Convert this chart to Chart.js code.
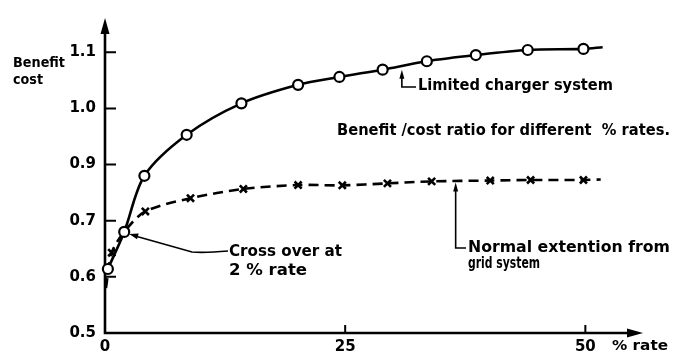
<!DOCTYPE html>
<html>
<head>
<meta charset="utf-8">
<script src="https://cdn.jsdelivr.net/npm/chart.js@4.4.1/dist/chart.umd.min.js"></script>
<style>
  html, body { margin: 0; padding: 0; background: #fff; }
  #wrap { width: 673px; height: 354px; }
</style>
</head>
<body>
<div id="wrap"><canvas id="chart"></canvas></div>
<script>
// Limited charger system (solid line, open circles)
const limitedRate  = [0.3, 2, 4.1, 8.5, 14.2, 20.1, 24.4, 28.9, 33.5, 38.6, 44.0, 49.8, 51.8];
const limitedRatio = [0.614, 0.68, 0.86, 0.953, 1.009, 1.042, 1.056, 1.069, 1.084, 1.095, 1.104, 1.106, 1.109];

// Normal extention from grid system (dashed line, x marks)
const normalRate  = [0.1, 0.7, 2, 4.2, 8.9, 14.4, 20.1, 24.7, 29.4, 34.0, 40.1, 44.3, 49.8, 51.6];
const normalRatio = [0.58, 0.643, 0.68, 0.733, 0.78, 0.813, 0.827, 0.826, 0.833, 0.84, 0.843, 0.845, 0.845, 0.847];

// axis ticks as printed on the figure (no 0.8 on the ratio axis)
const yTickValues = [0.5, 0.6, 0.7, 0.9, 1.0, 1.1];
const yTickLabels = ['0.5', '0.6', '0.7', '0.9', '1.0', '1.1'];
const xTicks = [0, 25, 50];

const FONT = '"DejaVu Sans", "Liberation Sans", sans-serif';

// the ratio axis is evenly spaced per printed tick, so map a ratio onto tick steps
function ratioAxis(v) {
  let i = 0;
  while (i < yTickValues.length - 2 && v > yTickValues[i + 1]) i++;
  return i + (v - yTickValues[i]) / (yTickValues[i + 1] - yTickValues[i]);
}

// stretched text to get the wide lettering of the drawing
function wideText(ctx, str, x, y, width, size) {
  ctx.save();
  ctx.font = 'bold ' + size + 'px ' + FONT;
  ctx.textBaseline = 'middle';
  ctx.textAlign = 'left';
  const w = ctx.measureText(str).width;
  ctx.translate(x, y);
  ctx.scale(width / w, 1);
  ctx.fillText(str, 0, 0);
  ctx.restore();
}

function arrowHead(ctx, x, y, angle, len, half) {
  ctx.save();
  ctx.translate(x, y);
  ctx.rotate(angle);
  ctx.beginPath();
  ctx.moveTo(0, 0);
  ctx.lineTo(-len, -half);
  ctx.lineTo(-len, half);
  ctx.closePath();
  ctx.fill();
  ctx.restore();
}

const axesPlugin = {
  id: 'axesPlugin',
  beforeDatasetsDraw(chart) {
    const { ctx, chartArea } = chart;
    const xs = chart.scales.x, ys = chart.scales.y;
    const x0 = xs.getPixelForValue(0);
    const y0 = ys.getPixelForValue(0);
    ctx.save();
    ctx.strokeStyle = '#000';
    ctx.fillStyle = '#000';
    ctx.lineWidth = 2.6;
    ctx.beginPath();
    ctx.moveTo(x0, chartArea.top + 10);
    ctx.lineTo(x0, y0);
    ctx.lineTo(chartArea.right - 10, y0);
    ctx.stroke();
    arrowHead(ctx, x0, chartArea.top, -Math.PI / 2, 16, 4.5);
    arrowHead(ctx, chartArea.right, y0, 0, 16, 4.5);
    // tick marks point into the plot
    ctx.lineWidth = 2;
    ctx.beginPath();
    for (let i = 1; i < yTickLabels.length; i++) {
      const y = ys.getPixelForValue(i);
      ctx.moveTo(x0, y);
      ctx.lineTo(x0 + 11, y);
    }
    xTicks.slice(1).forEach(v => {
      const x = xs.getPixelForValue(v);
      ctx.moveTo(x, y0);
      ctx.lineTo(x, y0 - 8);
    });
    ctx.stroke();
    ctx.restore();
  },
  afterDatasetsDraw(chart) {
    const { ctx } = chart;
    const xs = chart.scales.x, ys = chart.scales.y;
    ctx.save();
    ctx.fillStyle = '#000';
    ctx.strokeStyle = '#000';

    // axis titles
    wideText(ctx, 'Benefit', 13, 63, 52, 14);
    wideText(ctx, 'cost', 13, 80, 30, 14);
    wideText(ctx, '% rate', 612, 346, 56, 14);

    // heading
    wideText(ctx, 'Benefit /cost ratio for different  % rates.', 337, 131, 333, 15);

    // limited charger leader
    ctx.lineWidth = 1.6;
    const lx = xs.getPixelForValue(30.9);
    const ly = ys.getPixelForValue(ratioAxis(1.074)) + 3;
    ctx.beginPath();
    ctx.moveTo(lx, ly + 6);
    ctx.lineTo(lx, 87);
    ctx.lineTo(416, 87);
    ctx.stroke();
    arrowHead(ctx, lx, ly, -Math.PI / 2, 9, 2.5);
    wideText(ctx, 'Limited charger system', 418, 86, 195, 16);

    // cross over leader
    const cx = xs.getPixelForValue(2) + 5;
    const cy = ys.getPixelForValue(ratioAxis(0.68)) + 2;
    ctx.beginPath();
    ctx.moveTo(cx + 6, cy + 2);
    ctx.lineTo(192, 252);
    ctx.quadraticCurveTo(205, 253, 228, 251);
    ctx.stroke();
    arrowHead(ctx, cx, cy, Math.atan2(cy - 252, cx - 192), 9, 3);
    wideText(ctx, 'Cross over at', 229, 252, 113, 16);
    wideText(ctx, '2 % rate', 229, 271, 78, 16);

    // normal extention leader
    const nx = xs.getPixelForValue(36.5);
    const ny = ys.getPixelForValue(ratioAxis(0.843)) + 2;
    ctx.beginPath();
    ctx.moveTo(nx, ny + 6);
    ctx.lineTo(nx, 248);
    ctx.lineTo(466, 248);
    ctx.stroke();
    arrowHead(ctx, nx, ny, -Math.PI / 2, 9, 2.5);
    wideText(ctx, 'Normal extention from', 468, 248, 202, 15);
    wideText(ctx, 'grid system', 468, 264, 72, 15);
    ctx.restore();
  }
};

const lastLimited = limitedRate.length - 1;
const lastNormal = normalRate.length - 1;

new Chart(document.getElementById('chart'), {
  type: 'line',
  data: {
    datasets: [
      {
        label: 'Limited charger system',
        data: limitedRate.map((x, i) => ({ x, y: ratioAxis(limitedRatio[i]) })),
        borderColor: '#000',
        borderWidth: 2.6,
        tension: 0.3,
        pointStyle: 'circle',
        pointRadius: limitedRate.map((_, i) => (i === lastLimited ? 0 : 5)),
        pointBackgroundColor: '#fff',
        pointBorderColor: '#000',
        pointBorderWidth: 2.2,
        clip: false
      },
      {
        label: 'Normal extention from grid system',
        data: normalRate.map((x, i) => ({ x, y: ratioAxis(normalRatio[i]) })),
        borderColor: '#000',
        borderWidth: 2.6,
        borderDash: [10, 6],
        tension: 0.3,
        pointStyle: 'crossRot',
        pointRadius: normalRate.map((_, i) => (i === 0 || i === 2 || i === lastNormal ? 0 : 5)),
        pointBorderColor: '#000',
        pointBorderWidth: 2.6,
        clip: false
      }
    ]
  },
  options: {
    responsive: true,
    maintainAspectRatio: false,
    animation: false,
    layout: { padding: { top: 10, right: 30, left: 0, bottom: 0 } },
    plugins: {
      legend: { display: false },
      tooltip: { enabled: false }
    },
    scales: {
      x: {
        type: 'linear',
        min: 0,
        max: 56,
        grid: { display: false, drawTicks: false },
        border: { display: false },
        afterFit: s => { s.height = 21; },
        afterBuildTicks: s => { s.ticks = xTicks.map(v => ({ value: v })); },
        ticks: {
          autoSkip: false,
          maxRotation: 0,
          padding: 5,
          color: '#000',
          font: { family: FONT, size: 15, weight: 'bold' },
          callback: v => String(v)
        }
      },
      y: {
        type: 'linear',
        min: 0,
        max: 5.61,
        grid: { display: false, drawTicks: false },
        border: { display: false },
        afterFit: s => { s.width = 105; },
        afterBuildTicks: s => { s.ticks = yTickLabels.map((_, i) => ({ value: i })); },
        ticks: {
          autoSkip: false,
          padding: 9,
          color: '#000',
          font: { family: FONT, size: 15, weight: 'bold' },
          callback: (v, i) => yTickLabels[i]
        }
      }
    }
  },
  plugins: [axesPlugin]
});
</script>
</body>
</html>
